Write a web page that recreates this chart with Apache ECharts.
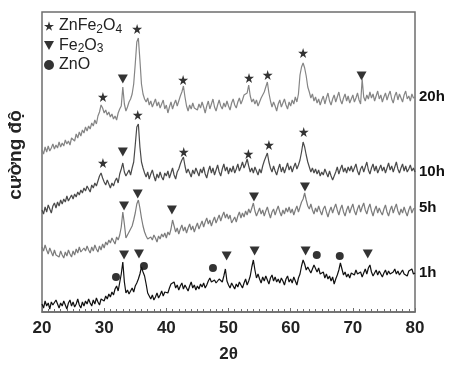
<!DOCTYPE html>
<html>
<head>
<meta charset="utf-8">
<script src="https://cdn.jsdelivr.net/npm/echarts@6/dist/echarts.min.js"></script>
<style>
  html, body { margin: 0; padding: 0; background: #fff; }
  #xrd_con { width: 450px; height: 372px; }
</style>
</head>
<body>
<div id="xrd_con"></div>
<script>
// 2θ sampling step of the traces (degrees), traces start at 20°
var thetaStart = 20;
var thetaStep = 0.25;

// intensity, offset stacked (arbitrary units), one row = 5°
var int20h = [
  162,158,165,160,166,161,164,168,163,167,164,170,165,169,166,172,168,171,167,174,
  176,171,178,174,180,176,182,179,185,181,186,183,189,186,192,188,196,200,207,204,
  199,202,197,200,195,198,193,196,192,199,203,206,225,208,201,205,210,213,218,228,
  248,270,274,252,228,218,213,210,214,207,211,205,209,213,206,210,204,208,212,203,
  207,199,205,210,203,208,212,206,211,216,220,226,215,206,201,207,203,209,204,206,
  202,208,204,210,205,199,206,211,203,208,213,205,201,207,212,206,203,209,205,211,
  206,202,209,213,207,204,210,214,208,212,217,215,219,227,216,210,213,208,212,206,
  210,214,216,220,225,230,219,211,205,210,206,201,208,212,205,209,213,207,203,210,
  206,212,208,215,210,218,237,245,249,244,236,225,220,214,218,211,215,209,213,207,
  212,216,208,214,219,211,207,213,217,210,215,220,212,208,214,218,211,216,209,213,
  217,210,214,219,212,208,233,215,211,217,213,220,214,218,211,216,221,213,217,210,
  215,219,212,217,221,213,209,216,220,212,218,214,210,217,221,213,216,211,218,214,215
];
var int10h = [
  102,98,105,100,107,103,99,106,109,104,110,106,112,108,113,110,116,111,114,117,
  113,118,115,120,117,122,119,124,121,126,123,120,127,124,129,126,131,136,139,134,
  130,127,132,128,124,129,126,131,134,129,138,143,149,140,136,139,142,137,144,150,
  167,185,188,165,150,144,139,135,140,133,138,142,136,131,138,134,140,135,132,139,
  136,141,134,139,144,137,133,140,143,148,152,155,146,139,143,139,135,142,138,144,
  140,136,143,139,145,138,134,141,146,139,144,137,142,147,140,136,143,148,141,145,
  138,144,140,146,139,143,148,141,145,150,144,148,153,146,140,144,139,145,141,137,
  143,139,146,151,155,159,150,144,140,146,141,137,143,148,140,145,139,144,149,142,
  146,140,145,149,143,147,152,160,170,165,157,150,145,140,144,139,143,138,142,136,
  140,137,143,139,135,141,136,132,134,140,145,138,143,147,140,144,139,145,141,146,
  140,144,148,141,137,143,146,140,145,150,142,138,144,148,141,146,139,143,147,141,
  145,139,144,149,142,146,140,145,150,143,139,144,148,141,146,140,143,147,141,144,140
];
var int5h = [
  65,61,67,62,58,64,60,56,62,57,59,55,61,57,54,60,56,62,58,55,
  61,57,63,59,65,60,58,64,61,66,62,59,65,61,67,63,60,66,62,68,
  64,70,67,72,69,74,71,68,75,72,77,85,100,88,74,77,80,82,86,92,
  99,108,112,104,94,86,80,76,73,71,75,72,77,74,70,76,73,78,75,79,
  74,80,77,83,92,86,80,84,78,83,87,81,85,79,84,88,82,86,80,85,
  89,83,87,91,85,90,94,88,92,86,91,95,89,93,97,91,96,100,94,98,
  93,97,89,92,95,90,96,100,94,99,95,101,97,103,99,104,109,101,96,100,
  104,98,102,96,101,105,99,94,100,103,97,102,106,100,96,102,98,104,100,105,
  99,103,97,102,106,100,105,110,113,119,112,106,103,108,102,98,104,100,106,101,
  97,103,106,100,95,101,105,99,104,108,102,97,103,107,100,96,102,106,99,104,
  108,101,97,103,107,100,105,109,102,98,104,108,101,96,102,106,99,104,100,97,
  103,107,100,96,102,106,99,104,108,101,97,103,99,105,100,96,102,106,99,103,104
];
var int1h = [
  8,4,11,6,9,3,10,7,5,12,8,4,9,6,11,7,3,9,12,6,
  10,5,8,13,7,4,10,6,11,8,13,9,6,12,8,14,10,7,13,15,
  11,16,13,18,15,20,17,23,26,21,20,38,50,30,19,22,18,21,24,20,
  26,29,33,38,45,40,36,28,19,16,13,17,12,15,19,14,17,21,16,20,
  22,19,24,28,26,30,24,27,22,26,29,23,27,25,21,26,30,24,27,22,
  26,23,28,25,29,24,27,31,34,30,28,32,29,27,33,31,30,36,43,31,
  27,24,29,26,23,28,25,30,27,24,29,33,27,31,36,45,52,42,34,38,
  33,29,35,31,36,32,28,34,37,31,35,30,33,29,34,31,27,33,36,30,
  33,29,35,31,27,34,38,46,52,48,42,45,44,39,43,47,45,40,44,38,
  36,40,34,38,33,36,31,35,28,33,37,42,49,43,37,40,35,38,34,39,
  41,37,42,38,36,40,35,39,43,38,44,47,40,36,39,42,37,41,38,35,
  39,42,37,41,38,36,40,43,38,41,37,39,42,38,40,36,41,39,43,38,39
];

// phase markers: [2θ, height]
var starPts = [
  [29.8,215],[35.3,283],[42.7,232],[53.3,234],[56.3,237],[62.0,259],
  [29.8,149],[35.4,197],[42.8,160],[53.2,158],[56.5,167],[62.1,180]
];
var trianglePts = [
  [33.0,233],[71.4,236],[33.0,160],
  [33.2,106],[35.4,118],[40.9,102],[54.1,115],[62.3,125],
  [33.2,57],[35.6,58],[49.7,56],[54.2,61],[62.4,61],[72.4,58]
];
var circlePts = [[31.9,35],[36.4,46],[47.5,44],[64.2,57],[67.9,56]];

var traceNames = ['20h', '10h', '5h', '1h'];
var traceColors = ['#858585', '#4a4a4a', '#7c7c7c', '#111111'];
var traceData = [int20h, int10h, int5h, int1h];

var starPath = 'path://M50,0 L61,35 L98,35 L68,57 L79,91 L50,70 L21,91 L32,57 L2,35 L39,35 Z';
var triPath = 'path://M0,0 L10,0 L5,9 Z';
var fontFam = '"Liberation Sans", Arial, sans-serif';

function toPairs(arr) {
    var out = [];
    for (var i = 0; i < arr.length; i++) {
        out.push([thetaStart + i * thetaStep, arr[i]]);
    }
    return out;
}

var series = [];
traceNames.forEach(function (name, k) {
    series.push({
        name: name,
        type: 'line',
        data: toPairs(traceData[k]),
        showSymbol: false,
        silent: true,
        lineStyle: { color: traceColors[k], width: 1.2 },
        endLabel: {
            show: true,
            formatter: name,
            distance: 4,
            color: '#111',
            fontFamily: fontFam,
            fontWeight: 'bold',
            fontSize: 15
        }
    });
});
series.push({ name: 'ZnFe2O4', type: 'scatter', data: starPts, symbol: starPath, symbolSize: 10, itemStyle: { color: '#000' } });
series.push({ name: 'Fe2O3', type: 'scatter', data: trianglePts, symbol: triPath, symbolSize: [10, 9], itemStyle: { color: '#000' } });
series.push({ name: 'ZnO', type: 'scatter', data: circlePts, symbol: 'circle', symbolSize: 8, itemStyle: { color: '#000' } });

var chart = echarts.init(document.getElementById('xrd_con'));
var option = {
    animation: false,
    grid: {
        left: 42, right: 35, top: 12, bottom: 60,
        outerBoundsMode: 'none',
        show: true, borderColor: '#6e6e6e', borderWidth: 1.5
    },
    legend: {
        orient: 'vertical',
        left: 39,
        top: 13,
        itemWidth: 10,
        itemHeight: 10,
        itemGap: 2,
        data: [
            { name: 'ZnFe2O4', icon: starPath },
            { name: 'Fe2O3', icon: triPath },
            { name: 'ZnO', icon: 'circle' }
        ],
        formatter: function (name) {
            if (name === 'ZnFe2O4') return '{n|ZnFe}{s|2}{n|O}{s|4}';
            if (name === 'Fe2O3') return '{n|Fe}{s|2}{n|O}{s|3}';
            return '{n|ZnO}';
        },
        textStyle: {
            color: '#222',
            rich: {
                n: { fontSize: 16, fontFamily: fontFam, color: '#222', lineHeight: 19, verticalAlign: 'middle' },
                s: { fontSize: 12, fontFamily: fontFam, color: '#222', lineHeight: 12, verticalAlign: 'bottom' }
            }
        }
    },
    xAxis: {
        type: 'value',
        min: 20,
        max: 80,
        interval: 10,
        name: '2θ',
        nameLocation: 'middle',
        nameGap: 34,
        nameTextStyle: { fontSize: 17, fontWeight: 'bold', color: '#222', fontFamily: fontFam },
        axisLine: { lineStyle: { color: '#6e6e6e', width: 1.5 } },
        axisTick: { inside: true, length: 4, lineStyle: { color: '#6e6e6e' } },
        minorTick: { show: true, splitNumber: 10, length: 3, lineStyle: { color: '#6e6e6e' } },
        axisLabel: { fontSize: 17, fontWeight: 'bold', color: '#222', fontFamily: fontFam, margin: 8 },
        splitLine: { show: false }
    },
    yAxis: {
        type: 'value',
        min: 0,
        max: 300,
        name: 'cường độ',
        nameLocation: 'middle',
        nameGap: 17,
        nameTextStyle: { fontSize: 19, fontWeight: 'bold', color: '#222', fontFamily: fontFam, padding: [0, 0, 0, 14] },
        axisLine: { show: false },
        axisTick: { show: false },
        axisLabel: { show: false },
        splitLine: { show: false }
    },
    series: series
};
chart.setOption(option);
window.addEventListener('resize', function () {
    chart.resize();
});
</script>
</body>
</html>
